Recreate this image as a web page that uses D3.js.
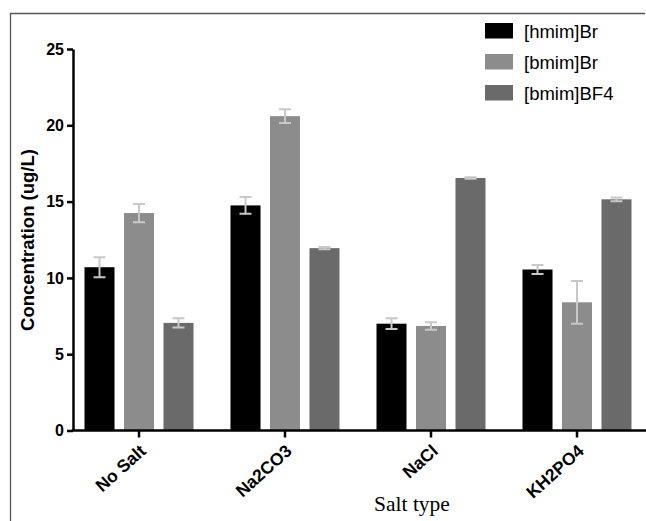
<!DOCTYPE html>
<html>
<head>
<meta charset="utf-8">
<script src="https://cdn.jsdelivr.net/npm/d3@7"></script>
<style>
  body { margin: 0; background: #fff; }
  svg { display: block; }
</style>
</head>
<body>
<div class="chart"></div>
<script>
// data
const salts = ["No Salt", "Na2CO3", "NaCl", "KH2PO4"];
const liquids = ["[hmim]Br", "[bmim]Br", "[bmim]BF4"];
const hmimBr = [10.7, 14.75, 7.0, 10.55];
const hmimBrErr = [0.65, 0.55, 0.35, 0.3];
const bmimBr = [14.25, 20.6, 6.85, 8.4];
const bmimBrErr = [0.6, 0.45, 0.25, 1.4];
const bmimBF4 = [7.05, 11.95, 16.55, 15.15];
const bmimBF4Err = [0.3, 0.08, 0.05, 0.12];
const yTicks = [0, 5, 10, 15, 20, 25];

const colors = ["#000000", "#8c8c8c", "#6a6a6a"];

const series = [
    { name: liquids[0], values: hmimBr, err: hmimBrErr },
    { name: liquids[1], values: bmimBr, err: bmimBrErr },
    { name: liquids[2], values: bmimBF4, err: bmimBF4Err }
];

const outerWidth = 646;
const outerHeight = 521;

const svg = d3.select(".chart")
    .append("svg")
    .attr("width", outerWidth)
    .attr("height", outerHeight);

// picture frame (top + left edge)
svg.append("path")
    .attr("d", "M10.5,521 V13.5 H645")
    .attr("fill", "none")
    .attr("stroke", "#555")
    .attr("stroke-width", 1.3);

const plotLeft = 73;
const plotTop = 49;
const plotBottom = 430.5;

const xScale = d3.scaleBand()
    .domain(salts)
    .range([66, 66 + 146 * salts.length]);

const xInner = d3.scaleBand()
    .domain(liquids)
    .range([-54.5, 54.5])
    .paddingInner(0.24);

const yScale = d3.scaleLinear()
    .domain([0, 25])
    .range([plotBottom, plotTop]);

// bars
const groups = svg.append("g").attr("class", "bars")
    .selectAll("g")
    .data(series)
    .join("g")
    .attr("fill", (d, i) => colors[i]);

groups.selectAll("rect")
    .data(d => d.values.map((v, j) => ({ salt: salts[j], v, name: d.name })))
    .join("rect")
    .attr("x", d => xScale(d.salt) + xScale.bandwidth() / 2 + xInner(d.name))
    .attr("width", xInner.bandwidth())
    .attr("y", d => yScale(d.v))
    .attr("height", d => yScale(0) - yScale(d.v));

// error bars
const errG = svg.append("g").attr("class", "errors")
    .attr("stroke", "#c8c8c8")
    .attr("stroke-width", 2)
    .attr("fill", "none");

series.forEach(s => {
    s.values.forEach((v, j) => {
        const cx = xScale(salts[j]) + xScale.bandwidth() / 2 + xInner(s.name) + xInner.bandwidth() / 2;
        const hi = yScale(v + s.err[j]);
        const lo = yScale(v - s.err[j]);
        const cap = 6;
        errG.append("path")
            .attr("d", `M${cx},${hi}V${lo}M${cx - cap},${hi}H${cx + cap}M${cx - cap},${lo}H${cx + cap}`);
    });
});

// y axis
const yAxis = d3.axisLeft(yScale)
    .tickValues(yTicks)
    .tickSize(6)
    .tickPadding(3)
    .tickSizeOuter(0);

svg.append("g")
    .attr("class", "axis-y-axis")
    .attr("transform", `translate(${plotLeft}, 0)`)
    .call(yAxis)
    .call(g => g.select(".domain").attr("stroke-width", 2.5))
    .call(g => g.selectAll(".tick line").attr("stroke-width", 2.5))
    .call(g => g.selectAll("text")
        .attr("font-family", "Liberation Sans, Arial, sans-serif")
        .attr("font-weight", "bold")
        .attr("font-size", 16)
        .attr("fill", "#000"));

// x axis
const xAxis = d3.axisBottom(xScale)
    .tickSize(7)
    .tickSizeOuter(0);

svg.append("g")
    .attr("class", "axis-x-axis")
    .attr("transform", `translate(0, ${plotBottom})`)
    .call(xAxis)
    .call(g => g.select(".domain").remove())
    .call(g => g.selectAll(".tick line").attr("stroke-width", 2.5))
    .call(g => g.selectAll("text")
        .attr("font-family", "Liberation Sans, Arial, sans-serif")
        .attr("font-weight", "bold")
        .attr("font-size", 17.5)
        .attr("fill", "#000")
        .attr("text-anchor", "end")
        .attr("dy", null)
        .attr("y", 0)
        .attr("transform", "translate(8, 22) rotate(-42)"));

svg.append("line")
    .attr("x1", plotLeft - 1.25)
    .attr("x2", 646)
    .attr("y1", plotBottom)
    .attr("y2", plotBottom)
    .attr("stroke", "#000")
    .attr("stroke-width", 2.5);

// axis titles
svg.append("text")
    .attr("class", "y-axis-title")
    .attr("transform", "translate(34, 240) rotate(-90)")
    .attr("text-anchor", "middle")
    .attr("font-family", "Liberation Sans, Arial, sans-serif")
    .attr("font-weight", "bold")
    .attr("font-size", 18.5)
    .text("Concentration (ug/L)");

svg.append("text")
    .attr("class", "x-axis-title")
    .attr("x", 412)
    .attr("y", 511)
    .attr("text-anchor", "middle")
    .attr("font-family", "Liberation Serif, Times New Roman, serif")
    .attr("font-size", 21.5)
    .text("Salt type");

// legend
const legend = svg.append("g")
    .attr("class", "legend")
    .attr("transform", "translate(485, 23)");

const item = legend.selectAll("g")
    .data(liquids)
    .join("g")
    .attr("transform", (d, i) => `translate(0, ${i * 31})`);

item.append("rect")
    .attr("width", 28)
    .attr("height", 15.5)
    .attr("fill", (d, i) => colors[i]);

item.append("text")
    .attr("x", 39)
    .attr("y", 14.5)
    .attr("font-family", "Liberation Sans, Arial, sans-serif")
    .attr("font-size", 18.5)
    .text(d => d);
</script>
</body>
</html>
